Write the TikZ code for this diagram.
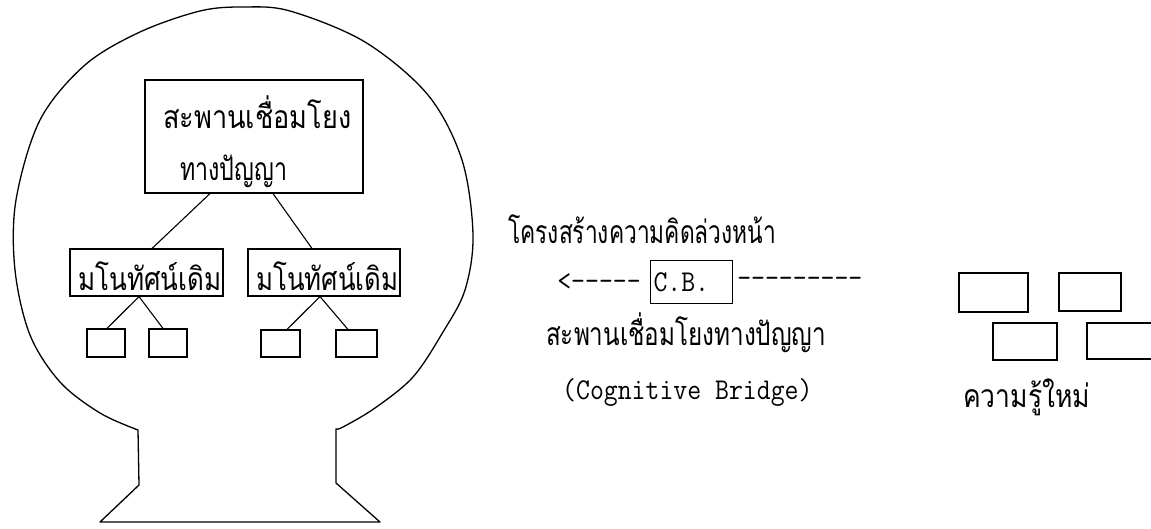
\documentclass[tikz,border=0pt]{standalone}
\usepackage{fontspec}
\usepackage{graphicx}
\newfontfamily\thaifont[Script=Thai]{Loma}
\usetikzlibrary{calc}
\newcommand\thw[2]{\resizebox{#1}{1.45\height}{#2}}
\newcommand\tyw[1]{\scalebox{1}[1.12]{#1}}
\begin{document}
\begin{tikzpicture}[x=1pt,y=-1pt,
  ln/.style={line width=1.1pt},
  outline/.style={line width=1.3pt,line join=round},
  box/.style={draw,line width=1.1pt,inner sep=0pt},
  th/.style={font=\thaifont\fontsize{22}{26}\selectfont,inner sep=0pt},
  mono/.style={font=\ttfamily\fontsize{27}{30}\selectfont,inner sep=0pt}]
\clip (0,0) rectangle (1151,528);
\fill[white] (0,0) rectangle (1151,528);
% head outline
\draw[outline] plot[smooth,tension=0.55] coordinates {
 (138,430) (100,413) (60,382) (30,335) (15,270) (16,200) (40,120) (85,65)
 (140,32) (200,11) (243,7) (290,11) (365,42) (428,95) (462,160) (473,235)
 (465,290) (443,332) (413,377) (375,408) (343,427) (336,429)}
 -- (336,483) -- (380,522) -- (100,522) -- (139,485) -- cycle;
% tree inside the head
\node[box,minimum width=218pt,minimum height=113pt] (main) at (254,136.5) {};
\node[th,anchor=base west] (t1) at (163,128) {\thw{188pt}{สะพานเชื่อมโยง}};
\node[th,anchor=base west] (t2) at (180,180) {\thw{107pt}{ทางปัญญา}};
\node[box,minimum width=153pt,minimum height=47pt] (m1) at (146.5,272.5) {};
\node[box,minimum width=152pt,minimum height=47pt] (m2) at (324,272.5) {};
\node[th,anchor=base] (m1t) at (150,290) {\thw{143pt}{มโนทัศน์เดิม}};
\node[th,anchor=base] (m2t) at (327.5,290) {\thw{142pt}{มโนทัศน์เดิม}};
\node[box,minimum width=38pt,minimum height=28pt] (s1) at (106,343) {};
\node[box,minimum width=38pt,minimum height=28pt] (s2) at (168,343) {};
\node[box,minimum width=39pt,minimum height=27pt] (s3) at (280.5,343.5) {};
\node[box,minimum width=41pt,minimum height=27pt] (s4) at (356.5,343.5) {};
\draw[ln] ($(main.south)+(-44,0)$) -- ($(m1.north)+(5.5,0)$);
\draw[ln] ($(main.south)+(19,0)$) -- ($(m2.north)+(-12,0)$);
\draw[ln] ($(m1.south)+(-7.5,0)$) -- ($(s1.north)+(1,0)$);
\draw[ln] ($(m1.south)+(-7.5,0)$) -- ($(s2.north)+(-5,0)$);
\draw[ln] ($(m2.south)+(-4,0)$) -- ($(s3.north)+(6.5,0)$);
\draw[ln] ($(m2.south)+(-4,0)$) -- ($(s4.north)+(-8.5,0)$);
% middle
\node[th,anchor=base west] (h) at (508,243) {\thw{268pt}{โครงสร้างความคิดล่วงหน้า}};
\node[box,mono,minimum width=82pt,minimum height=43pt,text width=76pt,align=left] (cb) at (691.5,282) {\tyw{C.B.}};
\node[mono,anchor=east] (la) at ($(cb.west)+(-9,0)$) {\tyw{<-----}};
\node[mono,anchor=west] (ra) at ($(cb.east)+(4,0)$) {\tyw{---------}};
\node[th,anchor=base west] (b1) at (546,345) {\thw{280pt}{สะพานเชื่อมโยงทางปัญญา}};
\node[mono,anchor=base west] (b2) at (562,399) {\tyw{(Cognitive Bridge)}};
% right
\node[box,minimum width=69pt,minimum height=39pt] (r1) at (993.5,292.5) {};
\node[box,minimum width=62pt,minimum height=38pt] (r2) at (1090,292) {};
\node[box,minimum width=64pt,minimum height=37pt] (r3) at (1025,341.5) {};
\node[box,minimum width=76pt,minimum height=36pt] (r4) at (1125,341) {};
\node[th,anchor=base west] (k) at (963,407) {\thw{127pt}{ความรู้ใหม่}};
\end{tikzpicture}
\end{document}
